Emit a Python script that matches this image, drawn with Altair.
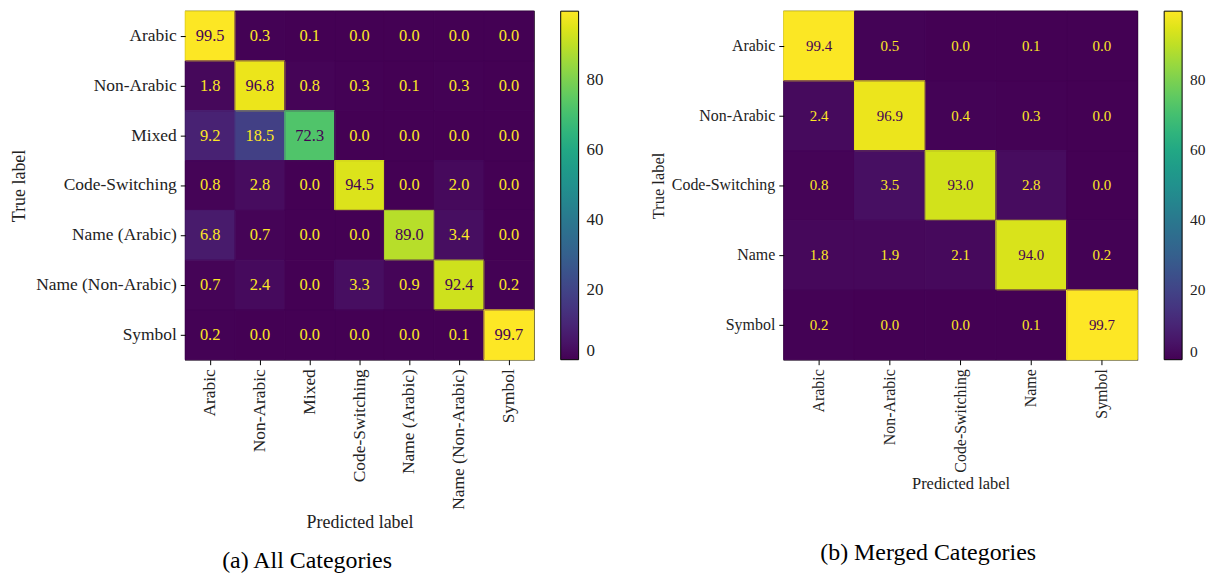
import altair as alt
import pandas as pd

# ---- data ----
cats_all = ["Arabic", "Non-Arabic", "Mixed", "Code-Switching",
            "Name (Arabic)", "Name (Non-Arabic)", "Symbol"]
vals_all = [
    [99.5, 0.3, 0.1, 0.0, 0.0, 0.0, 0.0],
    [1.8, 96.8, 0.8, 0.3, 0.1, 0.3, 0.0],
    [9.2, 18.5, 72.3, 0.0, 0.0, 0.0, 0.0],
    [0.8, 2.8, 0.0, 94.5, 0.0, 2.0, 0.0],
    [6.8, 0.7, 0.0, 0.0, 89.0, 3.4, 0.0],
    [0.7, 2.4, 0.0, 3.3, 0.9, 92.4, 0.2],
    [0.2, 0.0, 0.0, 0.0, 0.0, 0.1, 99.7],
]
cats_merged = ["Arabic", "Non-Arabic", "Code-Switching", "Name", "Symbol"]
vals_merged = [
    [99.4, 0.5, 0.0, 0.1, 0.0],
    [2.4, 96.9, 0.4, 0.3, 0.0],
    [0.8, 3.5, 93.0, 2.8, 0.0],
    [1.8, 1.9, 2.1, 94.0, 0.2],
    [0.2, 0.0, 0.0, 0.1, 99.7],
]
cbar_ticks = [0, 20, 40, 60, 80]
captions = ["(a) All Categories", "(b) Merged Categories"]

SERIF = "Liberation Serif"
DARK = "#440154"
BRIGHT = "#fde725"
INK = "#222222"


def to_df(cats, vals):
    rows = []
    for i, t in enumerate(cats):
        for j, p in enumerate(cats):
            rows.append({"true": t, "pred": p, "v": vals[i][j],
                         "edge": vals[i][j]})
    return pd.DataFrame(rows)


def panel(cats, vals, caption, w, h, lab_fs, num_fs, title_fs, leg_fs,
          x_tpad, y_tpad, cap_offset):
    df = to_df(cats, vals)
    flat = [x for r in vals for x in r]
    lo, hi = min(flat), max(flat)
    thresh = (lo + hi) / 2
    common = dict(labelFont=SERIF, labelFontSize=lab_fs, labelColor=INK,
                  titleFont=SERIF, titleFontSize=title_fs,
                  titleFontWeight="normal", titleColor=INK,
                  tickColor="#000000", tickSize=5, domain=False, grid=False,
                  labelPadding=4)
    xenc = alt.X("pred:N", sort=cats,
                 scale=alt.Scale(paddingInner=0, paddingOuter=0),
                 axis=alt.Axis(title="Predicted label", labelAngle=270,
                               labelAlign="right", labelBaseline="middle",
                               titlePadding=x_tpad, **common))
    yenc = alt.Y("true:N", sort=cats,
                 scale=alt.Scale(paddingInner=0, paddingOuter=0),
                 axis=alt.Axis(title="True label", titlePadding=y_tpad,
                               **common))
    rect = alt.Chart(df).mark_rect().encode(
        x=xenc, y=yenc,
        color=alt.Color("v:Q",
                        scale=alt.Scale(scheme="viridis", domain=[lo, hi]),
                        legend=alt.Legend(title=None, values=cbar_ticks,
                                          gradientLength=h,
                                          gradientThickness=18,
                                          gradientStrokeColor="#000000",
                                          gradientStrokeWidth=1,
                                          offset=27, padding=0,
                                          labelFont=SERIF,
                                          labelFontSize=leg_fs,
                                          labelColor=INK,
                                          labelOffset=8)),
    )
    seams = alt.Chart(df).mark_rect(filled=False, strokeWidth=1).encode(
        x=alt.X("pred:N", sort=cats),
        y=alt.Y("true:N", sort=cats),
        color=alt.Color("edge:Q",
                        scale=alt.Scale(scheme="viridis", domain=[lo, hi]),
                        legend=None),
    )
    text = alt.Chart(df).mark_text(font=SERIF, fontSize=num_fs).encode(
        x=alt.X("pred:N", sort=cats),
        y=alt.Y("true:N", sort=cats),
        text=alt.Text("v:Q", format=".1f"),
        color=alt.condition(alt.datum.v > thresh, alt.value(DARK),
                            alt.value(BRIGHT)),
    )
    return alt.layer(rect, seams, text).resolve_scale(
        color="independent"
    ).properties(
        width=w, height=h,
        title=alt.TitleParams(caption, orient="bottom", anchor="middle",
                              frame="bounds",
                              font=SERIF, fontSize=24, fontWeight="normal",
                              color="#000000", offset=cap_offset),
    )


left = panel(cats_all, vals_all, captions[0], 350, 350,
             lab_fs=17.5, num_fs=16.5, title_fs=18, leg_fs=17,
             x_tpad=4, y_tpad=7, cap_offset=18)
right = panel(cats_merged, vals_merged, captions[1], 355, 350,
              lab_fs=16, num_fs=15, title_fs=16.5, leg_fs=15.5,
              x_tpad=3, y_tpad=5, cap_offset=50)

chart = alt.hconcat(left, right, spacing=45).resolve_scale(
    color="independent"
).configure_view(stroke="#000000", strokeWidth=1.2).properties(
    padding={"left": 2, "top": 0, "right": 2, "bottom": 0})

chart.save("out.html", embed_options={"renderer": "svg", "actions": False})
